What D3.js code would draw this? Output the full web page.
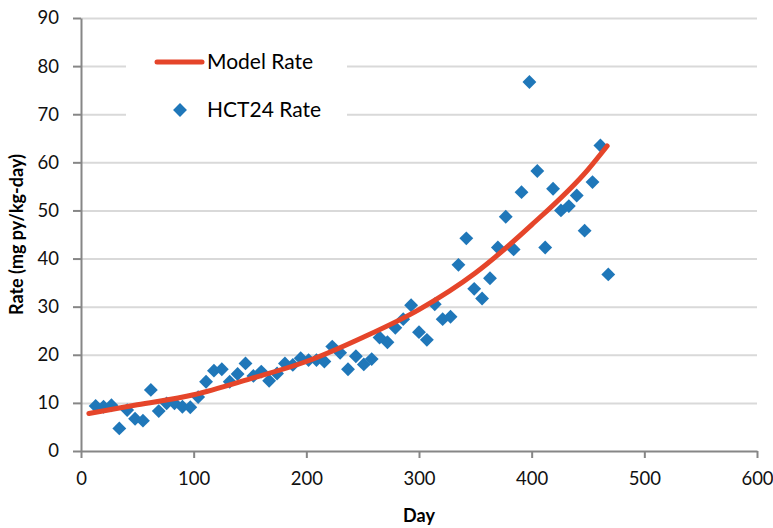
<!DOCTYPE html>
<html>
<head>
<meta charset="utf-8">
<script src="https://cdn.jsdelivr.net/npm/d3@7"></script>
<style>
body { margin: 0; background: #fff; }
svg { font-family: Lato, "Open Sans", sans-serif; }
.axis path, .axis line { stroke: #868686; stroke-width: 2; }
.grid line { stroke: #d9d9d9; stroke-width: 2; }
.grid path { display: none; }
</style>
</head>
<body>
<div id="container"></div>
<script>
// HCT24 measured rate, roughly weekly
var days = [13, 20, 27, 34, 41, 48, 55, 62, 69, 76, 83, 90, 97, 104, 111, 118, 125, 132, 139, 146,
    153, 160, 167, 174, 181, 188, 195, 202, 209, 216, 223, 230, 237, 244, 251, 258, 265, 272, 279, 286,
    293, 300, 307, 314, 321, 328, 335, 342, 349, 356, 363, 370, 377, 384, 391, 398, 405, 412, 419, 426,
    433, 440, 447, 454, 461, 468];
var rates = [9.35, 9.2, 9.5, 4.7, 8.5, 6.7, 6.3, 12.7, 8.3, 9.9, 9.9, 9.2, 9.1, 11.2, 14.4, 16.7, 17.0, 14.4, 16.0, 18.2,
    15.6, 16.5, 14.6, 16.1, 18.2, 17.9, 19.3, 18.9, 18.9, 18.6, 21.7, 20.4, 17.0, 19.7, 18.0, 19.1, 23.6, 22.6, 25.6, 27.4,
    30.3, 24.7, 23.1, 30.5, 27.4, 27.9, 38.7, 44.2, 33.7, 31.7, 35.9, 42.3, 48.7, 41.9, 53.8, 76.7, 58.2, 42.3, 54.5, 50.0,
    50.9, 53.1, 45.8, 55.9, 63.5, 36.7];
var modelDays = [7, 50, 100, 150, 200, 250, 300, 350, 400, 450, 467];
var modelRates = [7.8, 9.6, 11.7, 15.0, 18.6, 23.6, 29.4, 37.0, 47.0, 58.5, 63.4];
var xTicks = [0, 100, 200, 300, 400, 500, 600];
var yTicks = [0, 10, 20, 30, 40, 50, 60, 70, 80, 90];

var width = 773, height = 528;
var margin = { top: 18, right: 16, bottom: 77, left: 81 };
var lineColor = "#e5452a", dotColor = "#1f77b9";

var x = d3.scaleLinear().domain([0, 600]).range([margin.left, width - margin.right]);
var y = d3.scaleLinear().domain([0, 90]).range([height - margin.bottom, margin.top]);

var svg = d3.select('#container').append('svg').attr('width', width).attr('height', height);

// gridlines
svg.append('g').attr('class', 'grid')
    .attr('transform', 'translate(' + margin.left + ',0)')
    .call(d3.axisLeft(y).tickValues(yTicks.slice(1)).tickSize(-(width - margin.left - margin.right)).tickFormat(''));

// legend background hides gridlines behind it
svg.append('rect').attr('x', 126).attr('y', 40).attr('width', 221).attr('height', 88).attr('fill', '#fff');

svg.append('g').attr('class', 'x axis')
    .attr('transform', 'translate(0,' + y(0) + ')')
    .call(d3.axisBottom(x).tickValues(xTicks).tickSize(7).tickSizeOuter(0).tickPadding(14));
svg.append('g').attr('class', 'y axis')
    .attr('transform', 'translate(' + margin.left + ',0)')
    .call(d3.axisLeft(y).tickValues(yTicks).tickSize(8).tickSizeOuter(0).tickPadding(14));
svg.selectAll('.axis text').attr('font-size', 18.5).attr('fill', '#111').style('font-family', 'Lato, sans-serif');

// points
var diamond = d3.symbol().type(d3.symbolSquare).size(96);
svg.append('g').selectAll('path').data(d3.range(days.length)).enter().append('path')
    .attr('d', diamond)
    .attr('fill', dotColor)
    .attr('transform', function (i) { return 'translate(' + x(days[i]) + ',' + y(rates[i]) + ') rotate(45)'; });

// model line
var line = d3.line().curve(d3.curveMonotoneX)
    .x(function (i) { return x(modelDays[i]); })
    .y(function (i) { return y(modelRates[i]); });
svg.append('path').datum(d3.range(modelDays.length))
    .attr('d', line).attr('fill', 'none')
    .attr('stroke', lineColor).attr('stroke-width', 5).attr('stroke-linecap', 'round');

// axis titles
svg.append('text').attr('x', x(300)).attr('y', 522).attr('text-anchor', 'middle')
    .attr('font-size', 18).attr('font-weight', 'bold').text('Day');
svg.append('text').attr('transform', 'translate(23,' + y(45) + ') rotate(-90)').attr('text-anchor', 'middle')
    .attr('font-size', 18).attr('font-weight', 'bold').text('Rate (mg py/kg-day)');

// legend
var lg = svg.append('g');
lg.append('line').attr('x1', 157).attr('x2', 202).attr('y1', 62).attr('y2', 62)
    .attr('stroke', lineColor).attr('stroke-width', 5).attr('stroke-linecap', 'round');
lg.append('text').attr('x', 207).attr('y', 62).attr('dy', '0.35em').attr('font-size', 21).text('Model Rate');
lg.append('path').attr('d', diamond).attr('fill', dotColor).attr('transform', 'translate(180,110) rotate(45)');
lg.append('text').attr('x', 207).attr('y', 110).attr('dy', '0.35em').attr('font-size', 21).text('HCT24 Rate');
</script>
</body>
</html>
